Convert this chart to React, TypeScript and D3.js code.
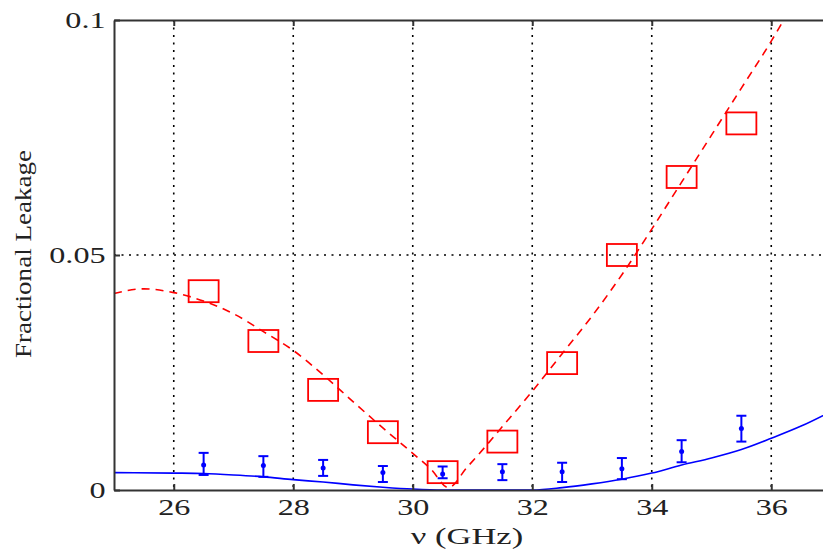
import React, { useEffect, useRef } from 'react';
import * as d3 from 'd3';

// measured leakage (squares) at band centres
const bandCentres = [26.5, 27.5, 28.5, 29.5, 30.5, 31.5, 32.5, 33.5, 34.5, 35.5];
const redMeasured = [0.0423, 0.0317, 0.0213, 0.0123, 0.0038, 0.0103, 0.027, 0.050, 0.0666, 0.078];

// blue points with error bars
const blueMeasured = [0.0053, 0.0052, 0.0047, 0.0037, 0.0034, 0.0039, 0.0039, 0.0045, 0.0082, 0.0131];
const blueLow = [0.0032, 0.0028, 0.003, 0.0017, 0.0025, 0.0021, 0.0017, 0.0023, 0.0059, 0.0103];
const blueHigh = [0.0079, 0.0072, 0.0064, 0.0051, 0.005, 0.0055, 0.0058, 0.0068, 0.0106, 0.0158];

// red dashed model curve
const redCurveX = [25, 25.5, 26, 26.5, 27, 27.5, 28, 28.5, 29, 29.5, 30, 30.3, 30.6, 30.9, 31.2, 31.5, 32, 32.5, 33, 33.5, 34, 34.5, 35, 35.5, 36, 36.2];
const redCurveY = [0.0418, 0.0428, 0.042, 0.0402, 0.0375, 0.0337, 0.0297, 0.0245, 0.0188, 0.0132, 0.0078, 0.0045, 0.0005, 0.0047, 0.009, 0.0135, 0.021, 0.029, 0.037, 0.0458, 0.0555, 0.0655, 0.0755, 0.0855, 0.0955, 0.0998];

// blue solid model curve
const blueCurveX = [25, 26, 26.5, 27, 27.5, 28, 28.5, 29, 29.5, 30, 30.5, 31, 31.5, 32, 32.5, 33, 33.5, 34, 34.5, 35, 35.5, 36, 36.5, 37];
const blueCurveY = [0.0037, 0.0036, 0.0035, 0.0032, 0.0028, 0.0022, 0.0017, 0.0011, 0.0006, 0.0002, 0, 0, 0, 0, 0.0005, 0.0013, 0.0023, 0.0036, 0.0053, 0.0068, 0.0086, 0.011, 0.0136, 0.0167];

const xTicks = [26, 28, 30, 32, 34, 36];
const yTicks = [0, 0.05, 0.1];

const App = () => {
    const ref = useRef<SVGSVGElement>(null);

    useEffect(() => {
        const svg = d3.select(ref.current);
        svg.selectAll('*').remove();

        const left = 114, right = 831, top = 20, bottom = 490;
        const x = d3.scaleLinear().domain([25, 37]).range([left, right]);
        const y = d3.scaleLinear().domain([0, 0.1]).range([bottom, top]);
        const font = "'Liberation Serif', 'Times New Roman', serif";
        const stretch = 'scale(1.4,1)'; // the original's lettering is wide

        // grid
        const grid = svg.append('g')
            .attr('stroke', '#000')
            .attr('stroke-width', 1.6)
            .attr('stroke-dasharray', '2,5.5');
        grid.selectAll('line.v')
            .data(xTicks)
            .join('line')
            .attr('x1', d => x(d)).attr('x2', d => x(d))
            .attr('y1', top).attr('y2', bottom);
        grid.append('line')
            .attr('x1', left).attr('x2', right)
            .attr('y1', y(0.05)).attr('y2', y(0.05));

        // blue model
        const blueLine = d3.line<number>()
            .x((d, i) => x(blueCurveX[i]))
            .y(d => y(d))
            .curve(d3.curveMonotoneX);
        svg.append('path')
            .attr('d', blueLine(blueCurveY))
            .attr('fill', 'none')
            .attr('stroke', '#0000ff')
            .attr('stroke-width', 1.6);

        // red model
        const redLine = d3.line<number>()
            .x((d, i) => x(redCurveX[i]))
            .y(d => y(d))
            .curve(d3.curveMonotoneX);
        svg.append('path')
            .attr('d', redLine(redCurveY))
            .attr('fill', 'none')
            .attr('stroke', '#ff0000')
            .attr('stroke-width', 1.6)
            .attr('stroke-dasharray', '8,6');

        // red squares
        svg.append('g')
            .selectAll('rect')
            .data(redMeasured)
            .join('rect')
            .attr('x', (d, i) => x(bandCentres[i]) - 15)
            .attr('y', d => y(d) - 11)
            .attr('width', 30)
            .attr('height', 22)
            .attr('fill', 'none')
            .attr('stroke', '#ff0000')
            .attr('stroke-width', 1.8);

        // blue error bars
        const eb = svg.append('g').attr('stroke', '#0000ff').attr('stroke-width', 2);
        bandCentres.forEach((c, i) => {
            const cx = x(c);
            eb.append('line').attr('x1', cx).attr('x2', cx).attr('y1', y(blueLow[i])).attr('y2', y(blueHigh[i]));
            eb.append('line').attr('x1', cx - 5).attr('x2', cx + 5).attr('y1', y(blueLow[i])).attr('y2', y(blueLow[i]));
            eb.append('line').attr('x1', cx - 5).attr('x2', cx + 5).attr('y1', y(blueHigh[i])).attr('y2', y(blueHigh[i]));
        });
        svg.append('g')
            .selectAll('circle')
            .data(blueMeasured)
            .join('circle')
            .attr('cx', (d, i) => x(bandCentres[i]))
            .attr('cy', d => y(d))
            .attr('r', 2.5)
            .attr('fill', '#0000ff');

        // axes
        const xAxis = svg.append('g')
            .attr('transform', `translate(0,${bottom})`)
            .call(d3.axisBottom(x).tickValues(xTicks).tickFormat(d3.format('d')).tickSize(-6).tickSizeOuter(0).tickPadding(9));
        const xTop = svg.append('g')
            .attr('transform', `translate(0,${top})`)
            .call(d3.axisTop(x).tickValues(xTicks).tickFormat(() => '').tickSize(-6).tickSizeOuter(0));
        const yAxis = svg.append('g')
            .attr('transform', `translate(${left},0)`)
            .call(d3.axisLeft(y).tickValues(yTicks).tickFormat(d => (d === 0 ? '0' : String(d))).tickSize(-6).tickSizeOuter(0).tickPadding(6));

        [xAxis, xTop, yAxis].forEach(a => {
            a.select('.domain').attr('stroke', '#333').attr('stroke-width', 2);
            a.selectAll('.tick line').attr('stroke', '#333').attr('stroke-width', 2);
            a.selectAll('text')
                .attr('font-family', font)
                .attr('font-size', 23)
                .attr('fill', '#222')
                .attr('transform', stretch);
        });

        // axis titles
        svg.append('text')
            .attr('transform', 'translate(467,544) scale(1.5,1)')
            .attr('text-anchor', 'middle')
            .attr('font-family', font)
            .attr('font-size', 23)
            .attr('fill', '#222')
            .text('ν (GHz)');
        svg.append('text')
            .attr('transform', 'translate(31,254) rotate(-90)')
            .attr('text-anchor', 'middle')
            .attr('font-family', font)
            .attr('font-size', 24)
            .attr('textLength', 208)
            .attr('lengthAdjust', 'spacingAndGlyphs')
            .attr('fill', '#222')
            .text('Fractional Leakage');
    }, []);

    return (
        <svg ref={ref} width={823} height={558} style={{ position: 'absolute', left: 0, top: 0, background: '#fff' }}></svg>
    );
};

export default App;
